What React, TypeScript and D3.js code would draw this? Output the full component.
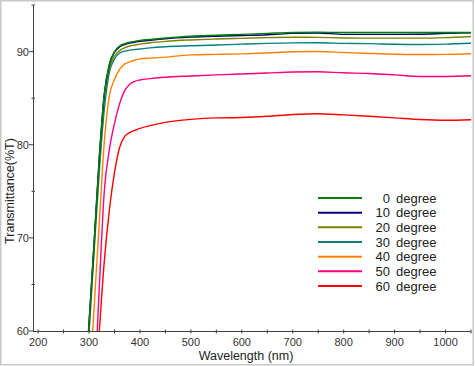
import React, { useEffect, useRef } from 'react';
import * as d3 from 'd3';

// wavelength grid (nm) shared by every curve
const wavelengths = [290, 300, 310, 320, 330, 340, 350, 360, 370, 380, 390, 400, 420, 450, 500, 550, 600, 650, 700, 750, 800, 850, 900, 950, 1000, 1050];

const deg0 = [52, 60.9, 69.5, 78.5, 85.5, 88.7, 90.0, 90.6, 90.85, 91.0, 91.1, 91.2, 91.3, 91.45, 91.65, 91.75, 91.85, 91.95, 92.05, 92.08, 92.05, 92.05, 92.05, 92.05, 92.05, 92.05];
const deg10 = [52, 60.8, 69.5, 78.5, 85.4, 88.6, 89.9, 90.5, 90.75, 90.9, 91.0, 91.1, 91.22, 91.38, 91.55, 91.65, 91.72, 91.8, 91.95, 92.0, 91.85, 91.85, 91.85, 91.86, 91.95, 92.02];
const deg20 = [51.5, 60.3, 69, 78, 85, 88.2, 89.5, 90.1, 90.4, 90.6, 90.7, 90.8, 90.95, 91.1, 91.25, 91.35, 91.42, 91.5, 91.54, 91.52, 91.46, 91.44, 91.44, 91.44, 91.5, 91.62];
const deg30 = [51, 59.8, 68.5, 77, 83.8, 87.8, 89.2, 89.85, 90.05, 90.15, 90.22, 90.28, 90.4, 90.52, 90.62, 90.7, 90.8, 90.88, 90.93, 90.94, 90.88, 90.85, 90.78, 90.76, 90.8, 90.9];
const deg40 = [45, 53.5, 62.5, 71.5, 80.3, 85.3, 87.0, 88.1, 88.65, 88.9, 89.1, 89.2, 89.3, 89.4, 89.65, 89.7, 89.75, 89.85, 89.98, 90.0, 89.9, 89.8, 89.72, 89.69, 89.7, 89.76];
const deg50 = [37, 45, 53, 64.5, 75, 79.5, 82.3, 84.4, 85.8, 86.5, 86.8, 86.95, 87.1, 87.25, 87.38, 87.5, 87.6, 87.7, 87.8, 87.83, 87.72, 87.65, 87.5, 87.33, 87.33, 87.4];
const deg60 = [36, 44, 52, 59.8, 67.5, 73, 77, 79.7, 80.9, 81.3, 81.55, 81.75, 82.05, 82.4, 82.72, 82.88, 82.92, 83.05, 83.25, 83.33, 83.2, 83.05, 82.88, 82.7, 82.62, 82.68];

const seriesLabels = ['0', '10', '20', '30', '40', '50', '60'];
const seriesValues = [deg0, deg10, deg20, deg30, deg40, deg50, deg60];
const seriesColors = ['#008000', '#000080', '#808000', '#008080', '#ff8000', '#ff0080', '#ff0000'];

const xTickLabels = [200, 300, 400, 500, 600, 700, 800, 900, 1000];
const xMinorTicks = [250, 350, 450, 550, 650, 750, 850, 950, 1050];
const yTickLabels = [60, 70, 80, 90];
const yMinorTicks = [65, 75, 85, 95];

const App: React.FC = () => {
    const svgRef = useRef<SVGSVGElement>(null);

    useEffect(() => {
        document.body.style.margin = '0';
        d3.select(svgRef.current).selectAll('*').remove();

        const width = 475;
        const height = 366;
        const left = 33, right = 471, top = 5, bottom = 331;
        const axisColor = '#404040';
        const font = '"Liberation Sans", Arial, sans-serif';

        const svg = d3.select(svgRef.current)
            .attr('width', width)
            .attr('height', height)
            .style('display', 'block')
            .style('background', '#fff');

        // outer frame
        svg.append('rect')
            .attr('x', 0.75).attr('y', 0.75)
            .attr('width', width - 2.5).attr('height', height - 2)
            .attr('fill', 'none')
            .attr('stroke', '#c8c8c8')
            .attr('stroke-width', 1.5);

        const x = d3.scaleLinear().domain([190, 1050]).range([left, right]);
        const y = d3.scaleLinear().domain([60, 95]).range([bottom, top]);

        svg.append('clipPath').attr('id', 'plot-clip')
            .append('rect')
            .attr('x', left).attr('y', top)
            .attr('width', right - left).attr('height', bottom - top);

        // Curves
        const line = d3.line<number>()
            .x((_, i) => x(wavelengths[i]))
            .y(d => y(d))
            .curve(d3.curveMonotoneX);

        const curves = svg.append('g').attr('clip-path', 'url(#plot-clip)');
        seriesValues.slice().reverse().forEach((vals, j) => {
            const i = seriesValues.length - 1 - j;
            curves.append('path')
                .datum(vals)
                .attr('fill', 'none')
                .attr('stroke', seriesColors[i])
                .attr('stroke-width', 1.4)
                .attr('d', line);
        });

        // X axis
        const gx = svg.append('g');
        gx.append('line')
            .attr('x1', left).attr('x2', right)
            .attr('y1', bottom + 0.5).attr('y2', bottom + 0.5)
            .attr('stroke', axisColor);
        [...xTickLabels, ...xMinorTicks].forEach(t => {
            gx.append('line')
                .attr('x1', x(t)).attr('x2', x(t))
                .attr('y1', bottom - 1.5).attr('y2', bottom + 2.5)
                .attr('stroke', axisColor);
        });
        gx.selectAll('text.tick')
            .data(xTickLabels)
            .enter().append('text')
            .attr('x', d => x(d))
            .attr('y', bottom + 15)
            .attr('text-anchor', 'middle')
            .style('font-family', '"Liberation Sans Narrow", "Liberation Sans", Arial, sans-serif')
            .style('font-size', '11px')
            .style('fill', '#333')
            .text(d => d);

        // Y axis
        const gy = svg.append('g');
        gy.append('line')
            .attr('x1', left + 0.5).attr('x2', left + 0.5)
            .attr('y1', top).attr('y2', bottom + 0.5)
            .attr('stroke', axisColor);
        yTickLabels.forEach(t => {
            gy.append('line')
                .attr('x1', left - 4).attr('x2', left + 1)
                .attr('y1', y(t)).attr('y2', y(t))
                .attr('stroke', axisColor);
        });
        yMinorTicks.forEach(t => {
            gy.append('line')
                .attr('x1', left - 1.5).attr('x2', left + 2)
                .attr('y1', y(t)).attr('y2', y(t))
                .attr('stroke', axisColor);
        });
        gy.selectAll('text.tick')
            .data(yTickLabels)
            .enter().append('text')
            .attr('x', left - 4)
            .attr('y', d => y(d) + 4)
            .attr('text-anchor', 'end')
            .style('font-family', '"Liberation Sans Narrow", "Liberation Sans", Arial, sans-serif')
            .style('font-size', '11px')
            .style('fill', '#333')
            .text(d => d);

        // Axis titles
        svg.append('text')
            .attr('x', 246)
            .attr('y', 360)
            .attr('text-anchor', 'middle')
            .style('font-family', font)
            .style('font-size', '12.5px')
            .style('fill', '#222')
            .text('Wavelength (nm)');

        svg.append('text')
            .attr('transform', 'translate(14,191) rotate(-90)')
            .attr('text-anchor', 'middle')
            .style('font-family', font)
            .style('font-size', '12.5px')
            .style('fill', '#222')
            .text('Transmittance(%T)');

        // Legend
        const legend = svg.append('g');
        seriesLabels.forEach((lab, i) => {
            const ly = 198 + i * 14.67;
            legend.append('line')
                .attr('x1', 318).attr('x2', 362)
                .attr('y1', ly).attr('y2', ly)
                .attr('stroke', seriesColors[i])
                .attr('stroke-width', 2);
            legend.append('text')
                .attr('x', 390)
                .attr('y', ly + 4.5)
                .attr('text-anchor', 'end')
                .style('font-family', font)
                .style('font-size', '13px')
                .style('fill', '#222')
                .text(lab);
            legend.append('text')
                .attr('x', 396)
                .attr('y', ly + 4.5)
                .style('font-family', font)
                .style('font-size', '13px')
                .style('fill', '#222')
                .text('degree');
        });
    }, []);

    return <svg ref={svgRef}></svg>;
};

export default App;
